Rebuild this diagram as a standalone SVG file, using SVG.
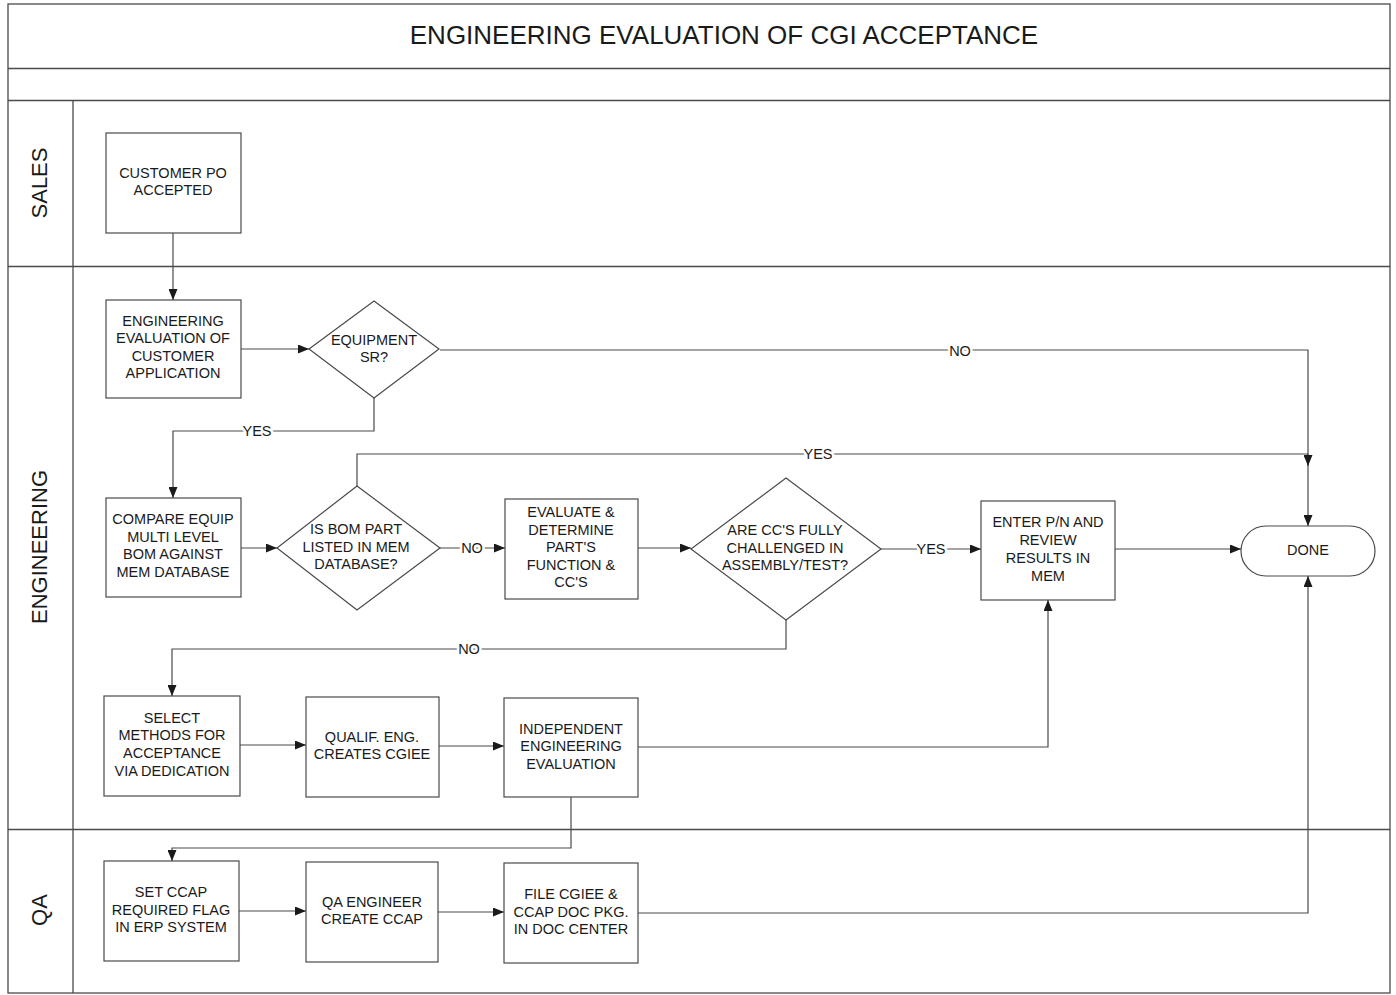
<svg xmlns="http://www.w3.org/2000/svg" width="1396" height="995" viewBox="0 0 1396 995">
<style>
.frame{fill:none;stroke:#4a4a4a;stroke-width:1.3}
.box{fill:#fff;stroke:#4a4a4a;stroke-width:1.2}
.t{font-family:"Liberation Sans",Arial,sans-serif;font-size:14.5px;fill:#1a1a1a;text-anchor:middle;dominant-baseline:central}
.lbl{font-family:"Liberation Sans",Arial,sans-serif;font-size:14.5px;fill:#1a1a1a;text-anchor:middle;dominant-baseline:central;stroke:#fff;stroke-width:5;paint-order:stroke}
.lane{font-family:"Liberation Sans",Arial,sans-serif;font-size:22px;fill:#1a1a1a;text-anchor:middle;dominant-baseline:central}
.title{font-family:"Liberation Sans",Arial,sans-serif;font-size:26px;fill:#1a1a1a;text-anchor:middle;dominant-baseline:central}
.c{fill:none;stroke:#4a4a4a;stroke-width:1.2}
</style>
<defs>
<marker id="ar" markerUnits="userSpaceOnUse" markerWidth="11" markerHeight="9" refX="11" refY="4.5" orient="auto">
<path d="M0,0 L11,4.5 L0,9 z" fill="#1a1a1a"/>
</marker>
</defs>
<rect width="1396" height="995" fill="#fff"/>
<g id="frame">
<rect class="frame" x="8" y="4" width="1382" height="989"/>
<line class="frame" x1="8" y1="68.5" x2="1390" y2="68.5"/>
<line class="frame" x1="8" y1="100.5" x2="1390" y2="100.5"/>
<line class="frame" x1="8" y1="266.5" x2="1390" y2="266.5"/>
<line class="frame" x1="8" y1="829.5" x2="1390" y2="829.5"/>
<line class="frame" x1="73" y1="100" x2="73" y2="993"/>
<text class="title" x="724" y="35">ENGINEERING EVALUATION OF CGI ACCEPTANCE</text>
<text class="lane" transform="translate(39,183) rotate(-90)">SALES</text>
<text class="lane" transform="translate(39,547) rotate(-90)">ENGINEERING</text>
<text class="lane" transform="translate(39,910) rotate(-90)">QA</text>
</g>
<g id="connectors">
<path class="c" d="M173,233 V300" marker-end="url(#ar)"/>
<path class="c" d="M241,349 H309" marker-end="url(#ar)"/>
<path class="c" d="M440,350 H1308 V526" marker-end="url(#ar)"/>
<path class="c" d="M374,398 V431 H173 V498" marker-end="url(#ar)"/>
<path class="c" d="M241,548 H277" marker-end="url(#ar)"/>
<path class="c" d="M357,486 V454 H1308 V466" marker-end="url(#ar)"/>
<path class="c" d="M440,548 H505" marker-end="url(#ar)"/>
<path class="c" d="M638,548 H691" marker-end="url(#ar)"/>
<path class="c" d="M881,549 H981" marker-end="url(#ar)"/>
<path class="c" d="M1115,549 H1241" marker-end="url(#ar)"/>
<path class="c" d="M786,620 V649 H172 V696" marker-end="url(#ar)"/>
<path class="c" d="M240,745 H306" marker-end="url(#ar)"/>
<path class="c" d="M439,746 H504" marker-end="url(#ar)"/>
<path class="c" d="M638,747 H1048 V600" marker-end="url(#ar)"/>
<path class="c" d="M571,797 V848 H172 V861" marker-end="url(#ar)"/>
<path class="c" d="M239,911 H306" marker-end="url(#ar)"/>
<path class="c" d="M438,912 H504" marker-end="url(#ar)"/>
<path class="c" d="M638,913 H1308 V576" marker-end="url(#ar)"/>
<text class="lbl" x="960" y="351">NO</text>
<text class="lbl" x="257" y="431">YES</text>
<text class="lbl" x="818" y="454">YES</text>
<text class="lbl" x="472" y="548">NO</text>
<text class="lbl" x="931" y="549">YES</text>
<text class="lbl" x="469" y="649">NO</text>
</g>
<g id="n1">
<rect class="box" x="106" y="133" width="135" height="100"/>
<text class="t" x="173" y="173">CUSTOMER PO</text>
<text class="t" x="173" y="190">ACCEPTED</text>
</g>
<g id="n2">
<rect class="box" x="106" y="300" width="135" height="98"/>
<text class="t" x="173" y="321">ENGINEERING</text>
<text class="t" x="173" y="338">EVALUATION OF</text>
<text class="t" x="173" y="356">CUSTOMER</text>
<text class="t" x="173" y="373">APPLICATION</text>
</g>
<g id="d1">
<polygon class="box" points="374,301 439,349 374,398 309,349"/>
<text class="t" x="374" y="340">EQUIPMENT</text>
<text class="t" x="374" y="357">SR?</text>
</g>
<g id="n4">
<rect class="box" x="106" y="498" width="135" height="99"/>
<text class="t" x="173" y="519">COMPARE EQUIP</text>
<text class="t" x="173" y="537">MULTI LEVEL</text>
<text class="t" x="173" y="554">BOM AGAINST</text>
<text class="t" x="173" y="572">MEM DATABASE</text>
</g>
<g id="d2">
<polygon class="box" points="357,486 440,548 357,610 277,548"/>
<text class="t" x="356" y="529">IS BOM PART</text>
<text class="t" x="356" y="547">LISTED IN MEM</text>
<text class="t" x="356" y="564">DATABASE?</text>
</g>
<g id="n6">
<rect class="box" x="505" y="499" width="133" height="100"/>
<text class="t" x="571" y="512">EVALUATE &amp;</text>
<text class="t" x="571" y="530">DETERMINE</text>
<text class="t" x="571" y="547">PART'S</text>
<text class="t" x="571" y="565">FUNCTION &amp;</text>
<text class="t" x="571" y="582">CC'S</text>
</g>
<g id="d3">
<polygon class="box" points="786,478 881,549 786,620 691,549"/>
<text class="t" x="785" y="530">ARE CC'S FULLY</text>
<text class="t" x="785" y="548">CHALLENGED IN</text>
<text class="t" x="785" y="565">ASSEMBLY/TEST?</text>
</g>
<g id="n8">
<rect class="box" x="981" y="501" width="134" height="99"/>
<text class="t" x="1048" y="522">ENTER P/N AND</text>
<text class="t" x="1048" y="540">REVIEW</text>
<text class="t" x="1048" y="558">RESULTS IN</text>
<text class="t" x="1048" y="576">MEM</text>
</g>
<g id="done">
<rect class="box" x="1241" y="526" width="134" height="50" rx="25" ry="25"/>
<text class="t" x="1308" y="550">DONE</text>
</g>
<g id="n10">
<rect class="box" x="104" y="696" width="136" height="100"/>
<text class="t" x="172" y="718">SELECT</text>
<text class="t" x="172" y="735">METHODS FOR</text>
<text class="t" x="172" y="753">ACCEPTANCE</text>
<text class="t" x="172" y="771">VIA DEDICATION</text>
</g>
<g id="n11">
<rect class="box" x="306" y="697" width="133" height="100"/>
<text class="t" x="372" y="737">QUALIF. ENG.</text>
<text class="t" x="372" y="754">CREATES CGIEE</text>
</g>
<g id="n12">
<rect class="box" x="504" y="698" width="134" height="99"/>
<text class="t" x="571" y="729">INDEPENDENT</text>
<text class="t" x="571" y="746">ENGINEERING</text>
<text class="t" x="571" y="764">EVALUATION</text>
</g>
<g id="n13">
<rect class="box" x="104" y="861" width="135" height="100"/>
<text class="t" x="171" y="892">SET CCAP</text>
<text class="t" x="171" y="910">REQUIRED FLAG</text>
<text class="t" x="171" y="927">IN ERP SYSTEM</text>
</g>
<g id="n14">
<rect class="box" x="306" y="862" width="132" height="100"/>
<text class="t" x="372" y="902">QA ENGINEER</text>
<text class="t" x="372" y="919">CREATE CCAP</text>
</g>
<g id="n15">
<rect class="box" x="504" y="863" width="134" height="100"/>
<text class="t" x="571" y="894">FILE CGIEE &amp;</text>
<text class="t" x="571" y="912">CCAP DOC PKG.</text>
<text class="t" x="571" y="929">IN DOC CENTER</text>
</g>
</svg>
